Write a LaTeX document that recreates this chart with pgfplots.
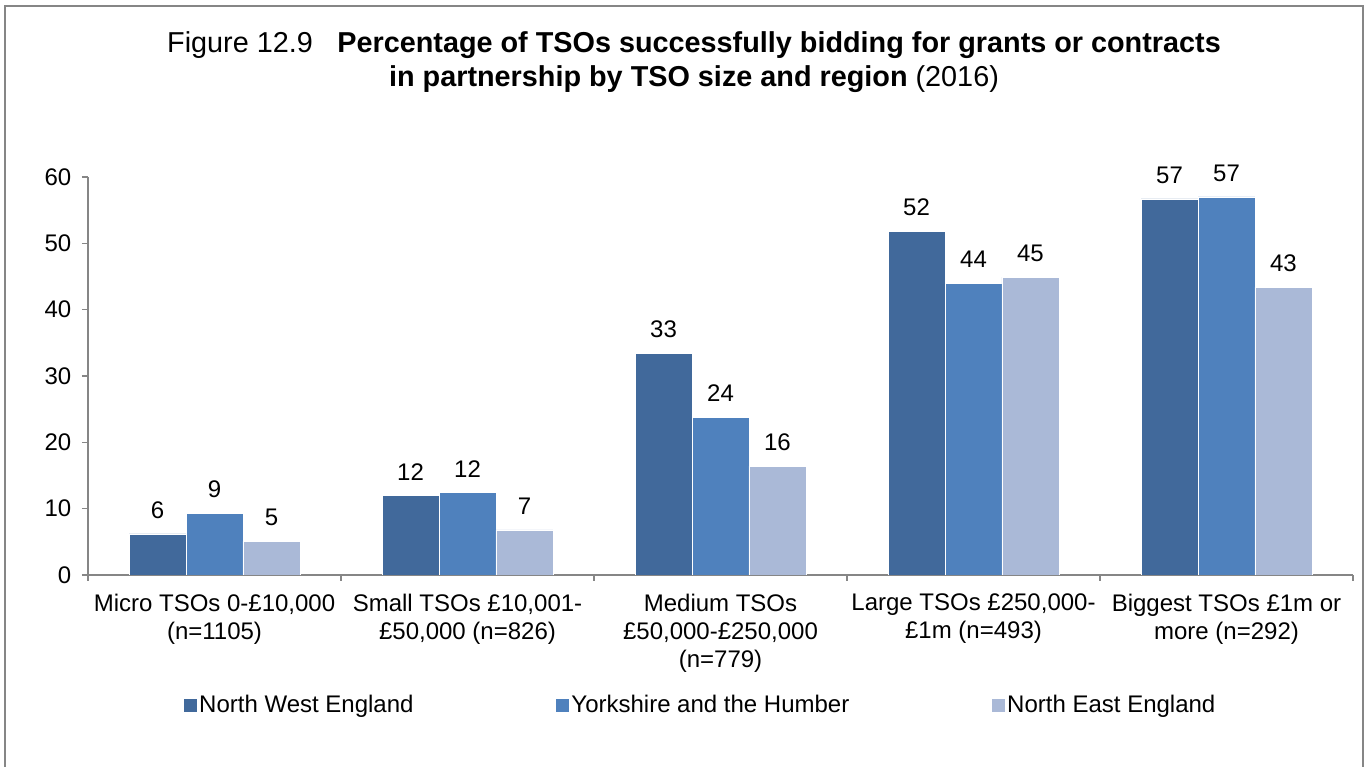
\documentclass[border=0pt]{standalone}
\usepackage{fontspec}
\setmainfont{Liberation Sans}
\usepackage{pgfplots}
\pgfplotsset{compat=1.18}
\definecolor{cNW}{HTML}{41699B}
\definecolor{cY}{HTML}{4F81BD}
\definecolor{cNE}{HTML}{AAB9D7}
\definecolor{axgray}{HTML}{868686}
\begin{document}
\begin{tikzpicture}[x=0.75pt,y=0.75pt]
\path[use as bounding box] (0,0) rectangle (1370,767);
\draw[axgray, line width=1.5pt] (5,-5) -- (5,761) -- (1363,761) -- (1363,-5);
\node[align=center, font=\fontsize{21.6}{25}\selectfont] at (694,705) {Figure 12.9\hspace{0.85em}\textbf{Percentage of TSOs successfully bidding for grants or contracts}\\\textbf{in partnership by TSO size and region} (2016)};
\begin{axis}[
  at={(66pt,144pt)}, anchor=south west,
  scale only axis, width=948.75pt, height=298.5pt,
  ybar, bar width=0.225,
  xmin=-0.5, xmax=4.5, ymin=0, ymax=60,
  axis x line*=bottom, axis y line*=left,
  axis line style={axgray, line width=1pt},
  tick align=outside,
  major tick length=4.5pt, minor tick length=4.5pt,
  ytick={0,10,...,60},
  y tick style={axgray, line width=1pt},
  xtick={0,1,2,3,4},
  xticklabels={{Micro TSOs 0-£10,000\\(n=1105)},{Small TSOs £10,001-\\£50,000 (n=826)},{Medium TSOs\\£50,000-£250,000\\(n=779)},{Large TSOs £250,000-\\£1m (n=493)},{Biggest TSOs £1m or\\more (n=292)}},
  minor xtick={-0.5,0.5,1.5,2.5,3.5,4.5},
  major x tick style={draw=none},
  minor x tick style={axgray, line width=1pt},
  xticklabel style={align=center, font=\fontsize{18}{21}\selectfont, anchor=north, yshift=-6pt},
  yticklabel style={font=\fontsize{18}{21}\selectfont, xshift=-4.5pt},
  /pgf/number format/assume math mode=true,
  nodes near coords={\pgfmathprintnumber[fixed,precision=0]{\pgfplotspointmeta}},
  every node near coord/.append style={font=\fontsize{18}{21}\selectfont, black, yshift=8pt},
  legend columns=3,
  legend style={draw=none, at={(0.4846,-0.3266)}, anchor=center, font=\fontsize{18}{21}\selectfont, /tikz/every even column/.append style={column sep=105pt}},
]
\addplot[fill=cNW, draw=white, line width=0.4pt, bar shift=-0.225, legend image code/.code={\fill[cNW] (0pt,-4.5pt) rectangle (9pt,4.5pt);}] coordinates {(0,6.2) (1,12.0) (2,33.4) (3,51.8) (4,56.7)};
\addplot[fill=cY, draw=white, line width=0.4pt, bar shift=0, legend image code/.code={\fill[cY] (0pt,-4.5pt) rectangle (9pt,4.5pt);}] coordinates {(0,9.3) (1,12.4) (2,23.8) (3,44.0) (4,57.0)};
\addplot[fill=cNE, draw=white, line width=0.4pt, bar shift=0.225, legend image code/.code={\fill[cNE] (0pt,-4.5pt) rectangle (9pt,4.5pt);}] coordinates {(0,5.1) (1,6.8) (2,16.4) (3,44.9) (4,43.4)};
\legend{North West England, Yorkshire and the Humber, North East England}
\end{axis}
\end{tikzpicture}
\end{document}
